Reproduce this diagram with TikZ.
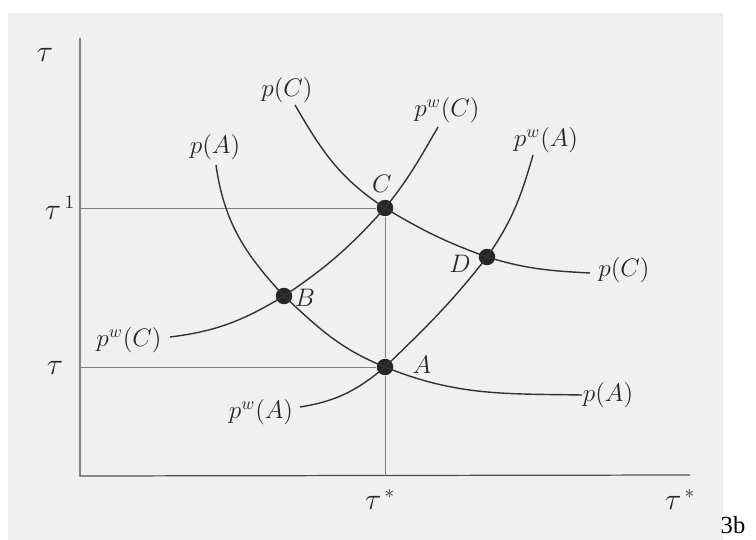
\documentclass[tikz,border=0pt]{standalone}
\usepackage{fontspec}
\setmainfont{Liberation Serif}
\usetikzlibrary{positioning}

\begin{document}
\begin{tikzpicture}[x=0.02cm,y=-0.02cm,
  lbl/.style={font=\fontsize{14}{16}\selectfont,text=black!85,inner sep=1pt},
  dot/.style={circle,fill=black!85,inner sep=0pt,minimum size=3.3mm},
  curve/.style={black!80,line width=0.8pt},
  guide/.style={black!50,line width=0.5pt},
  axis/.style={black!70,line width=0.7pt}]

\useasboundingbox (0,0) rectangle (756,540);
\fill[black!6] (8,13) rectangle (723,540);

% axes
\coordinate (O) at (80,476);
\coordinate (ytop) at (80,38);
\coordinate (xend) at (690,475);
\draw[axis] (ytop) -- (O) -- (xend);

% the four equilibria
\node[dot] (C) at (385,208) {};
\node[dot] (D) at (487,257) {};
\node[dot] (B) at (284,296) {};
\node[dot] (A) at (385,367) {};
\node[lbl] at (382,184) {$C$};
\node[lbl] at (460,264) {$D$};
\node[lbl] at (305,298) {$B$};
\node[lbl] at (422,365) {$A$};

% guide lines
\coordinate (t1) at (O |- C);
\coordinate (t0) at (O |- A);
\coordinate (ts) at (A |- O);
\draw[guide] (t1) -- (C);
\draw[guide] (t0) -- (A);
\draw[guide] (C) -- (A) -- (ts);

% curve ends
\coordinate (pA1) at (216,165);
\coordinate (pA2) at (582,395);
\coordinate (pC1) at (295,105);
\coordinate (pC2) at (590,273);
\coordinate (pwC1) at (170,337);
\coordinate (pwC2) at (438,127);
\coordinate (pwA1) at (300,407);
\coordinate (pwA2) at (533,155);

% p(A)
\draw[curve] (pA1) to[out=-82,in=133] (B.center) to[out=-43,in=158] (A.center) to[out=-22,in=179] (pA2);
% p(C)
\draw[curve] (pC1) to[out=-60,in=147] (C.center) to[out=-31,in=160] (D.center) to[out=-17,in=177] (pC2);
% p^w(C)
\draw[curve] (pwC1) to[out=7,in=-149] (B.center) to[out=34,in=-132] (C.center) to[out=51,in=-120] (pwC2);
% p^w(A)
\draw[curve] (pwA1) to[out=9,in=-140] (A.center) to[out=44,in=-128] (D.center) to[out=55,in=-106] (pwA2);

% curve labels
\node[lbl] (lpA1) at (215,147) {$p(A)$};
\node[lbl] (lpA2) at (608,395) {$p(A)$};
\node[lbl] (lpC1) at (287,90) {$p(C)$};
\node[lbl] (lpC2) at (624,270) {$p(C)$};
\node[lbl] (lpwC1) at (129,340) {$p^w(C)$};
\node[lbl] (lpwC2) at (447,110) {$p^w(C)$};
\node[lbl] (lpwA1) at (261,412) {$p^w(A)$};
\node[lbl] (lpwA2) at (546,140) {$p^w(A)$};

% axis labels
\node[lbl,font=\fontsize{16}{18}\selectfont] (ty) at (45,55) {$\tau$};
\node[lbl,font=\fontsize{16}{18}\selectfont] (ty1) at (60,208) {$\tau^{\,1}$};
\node[lbl,font=\fontsize{16}{18}\selectfont] (ty0) at (55,368) {$\tau$};
\node[lbl,font=\fontsize{16}{18}\selectfont] (txs) at (380,500) {$\tau^{\,*}$};
\node[lbl,font=\fontsize{16}{18}\selectfont] (tx) at (680,500) {$\tau^{\,*}$};

\node[font=\fontsize{14}{16}\selectfont,inner sep=0pt] (fig) at (733,525) {3b};
\end{tikzpicture}
\end{document}
